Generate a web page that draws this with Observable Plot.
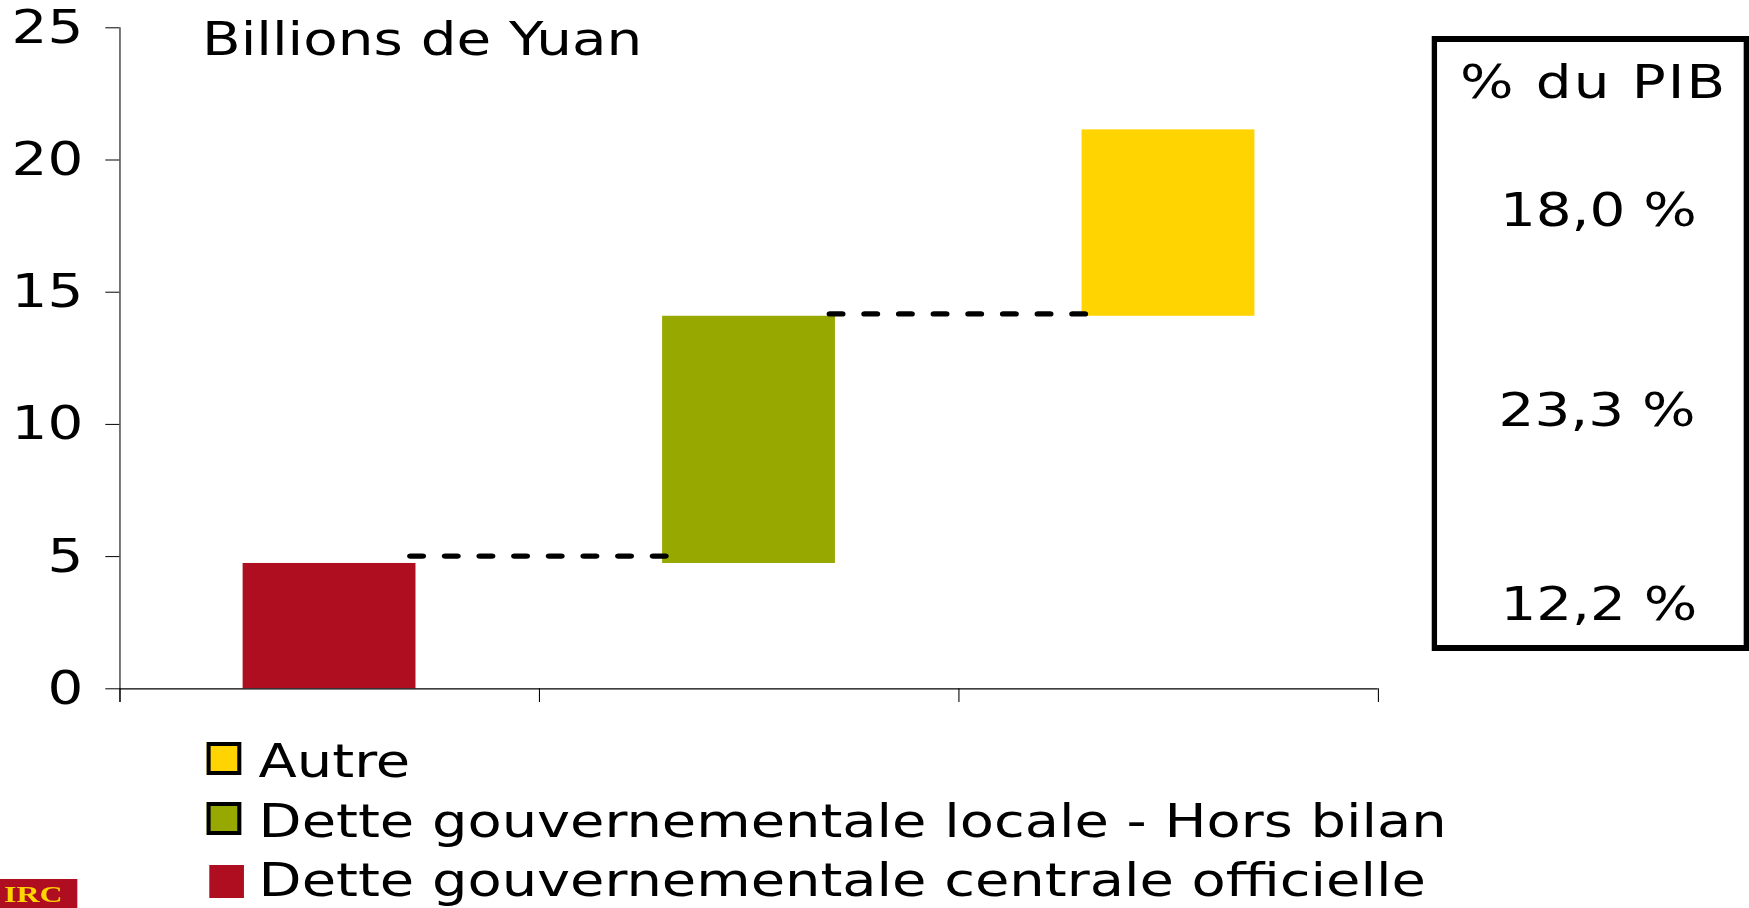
<!DOCTYPE html>
<html>
<head>
<meta charset="utf-8">
<script src="https://cdn.jsdelivr.net/npm/d3@7"></script>
<script src="https://cdn.jsdelivr.net/npm/@observablehq/plot@0.6"></script>
<style>
  html, body { margin: 0; padding: 0; background: #fff; overflow: hidden; }
  #stage {
    position: relative; width: 1312px; height: 908px;
    transform: scaleX(1.33308); transform-origin: 0 0;
    font-family: "DejaVu Sans Condensed", "DejaVu Sans", sans-serif;
    font-stretch: condensed; color: #000;
  }
  #stage svg { position: absolute; left: 0; top: 0; }
  .abs { position: absolute; white-space: nowrap; font-size: 47px; line-height: 47px; }
  .sw { position: absolute; box-sizing: border-box; }
</style>
</head>
<body>
<div id="stage"></div>
<script>
// ---- data ----
const categories = [
  "Dette gouvernementale centrale officielle",
  "Dette gouvernementale locale - Hors bilan",
  "Autre"
];
const barStart = [0, 4.74, 14.09];
const barEnd = [4.74, 14.09, 21.14];
const connectorLevels = [5.02, 14.18];
const pibShares = ["12,2 %", "23,3 %", "18,0 %"];
const yTicks = [0, 5, 10, 15, 20, 25];
const yDomain = [0, 25];
const titleText = "Billions de Yuan";
const boxTitle = "% du PIB";
const logoText = "IRC";
// ---- styles ----
const palette = ["#AE0E1F", "#97A800", "#FFD400"];

const bars = categories.map((c, i) => ({category: c, y1: barStart[i], y2: barEnd[i]}));
const connectors = connectorLevels.map((v, i) => ({from: categories[i], to: categories[i + 1], level: v}));

const W = 1312, H = 715, ML = 89.5, MR = 278.5, MT = 27.3, MB = H - 688.3;
const bw = (W - ML - MR) / categories.length;
const FONT = '"DejaVu Sans Condensed", "DejaVu Sans", sans-serif';

const chart = Plot.plot({
  width: W, height: H,
  marginLeft: ML, marginRight: MR, marginTop: MT, marginBottom: MB,
  style: {fontFamily: FONT, fontSize: "47px", fontStretch: "condensed", color: "#000", background: "transparent", overflow: "visible"},
  x: {type: "band", domain: categories, padding: 0, round: false, axis: null},
  y: {domain: yDomain, axis: null},
  color: {domain: categories, range: palette},
  marks: [
    Plot.barY(bars, {x: "category", y1: "y1", y2: "y2", fill: "category", insetLeft: 92.5, insetRight: 92.5}),
    Plot.ruleY([0], {stroke: "#000", strokeWidth: 1.2}),
    Plot.ruleX(categories, {x: d => d, dx: -bw / 2, y1: 0, y2: 0, insetTop: 13.7, stroke: "#000", strokeWidth: 0.8}),
    Plot.ruleX([categories[categories.length - 1]], {x: d => d, dx: bw / 2, y1: 0, y2: 0, insetTop: 13.7, stroke: "#000", strokeWidth: 0.8}),
    Plot.ruleX([categories[0]], {x: d => d, dx: -bw / 2, y1: yDomain[0], y2: yDomain[1], insetTop: 13.7, stroke: "#000", strokeWidth: 0.8}),
    Plot.axisY({ticks: yTicks, tickSize: 10.5, tickPadding: 17, fontSize: 47, label: null, tickFormat: d => String(d), stroke: "#000", color: "#000"}),
    Plot.ruleY(connectors, {y: "level", x1: "from", x2: "to", insetLeft: 218.5, insetRight: 218.5,
      stroke: "#000", strokeWidth: 5.2, strokeDasharray: "9,17", strokeLinecap: "round"}),
    Plot.text([titleText], {text: d => d, frameAnchor: "top-left", dx: 61.5, dy: -6, lineAnchor: "top", textAnchor: "start", fontSize: 47, fill: "#000", style: "letter-spacing:0.3px"})
  ]
});

const stage = document.getElementById("stage");
stage.appendChild(chart);

function addText(txt, left, baseline, opts = {}) {
  const d = document.createElement("div");
  d.className = "abs";
  d.textContent = txt;
  d.style.left = left + "px";
  d.style.top = (baseline - 39.8) + "px";
  if (opts.width) { d.style.width = opts.width + "px"; d.style.textAlign = "center"; }
  if (opts.size) d.style.fontSize = opts.size + "px";
  if (opts.spacing) d.style.letterSpacing = opts.spacing + "px";
  stage.appendChild(d);
  return d;
}

// ---- legend (reverse order) ----
const legendOrder = [2, 1, 0];
const swTop = [742, 802, 865];
const txtBase = [778, 837.5, 897];
legendOrder.forEach((ci, row) => {
  const s = document.createElement("div");
  s.className = "sw";
  s.style.background = palette[ci];
  if (ci === 0) {
    s.style.left = "156.8px"; s.style.top = swTop[row] + "px";
    s.style.width = "26px"; s.style.height = "33px";
  } else {
    s.style.left = "155.1px"; s.style.top = swTop[row] + "px";
    s.style.width = "25.5px"; s.style.height = "33px";
    s.style.border = "solid #000"; s.style.borderWidth = "4px 3px";
  }
  stage.appendChild(s);
  addText(categories[ci], 194, txtBase[row], {size: 46.6});
});

// ---- % du PIB box ----
const box = document.createElement("div");
box.style.cssText = "position:absolute;left:1074.4px;top:36px;width:237.2px;height:615px;box-sizing:border-box;border-style:solid;border-color:#000;border-width:6px 4.5px;";
stage.appendChild(box);
addText(boxTitle, 1195.5 - 150, 97.3, {width: 300, spacing: 1.6});
const boxOrder = [2, 1, 0];
const boxBase = [226, 426, 620];
const boxCenter = [1199, 1198, 1199.4];
boxOrder.forEach((ci, row) => addText(pibShares[ci], boxCenter[row] - 150, boxBase[row], {width: 300}));

// ---- logo fragment ----
const logo = document.createElement("div");
logo.style.cssText = "position:absolute;left:0;top:879px;width:58.3px;height:29px;overflow:hidden;background:" + palette[0] + ";";
const lt = document.createElement("span");
lt.textContent = logoText;
lt.style.cssText = "position:absolute;left:3px;top:3px;font-family:'Liberation Serif',serif;font-weight:bold;font-size:24px;line-height:24px;color:#FFD400;font-stretch:normal;";
logo.appendChild(lt);
stage.appendChild(logo);
</script>
</body>
</html>
